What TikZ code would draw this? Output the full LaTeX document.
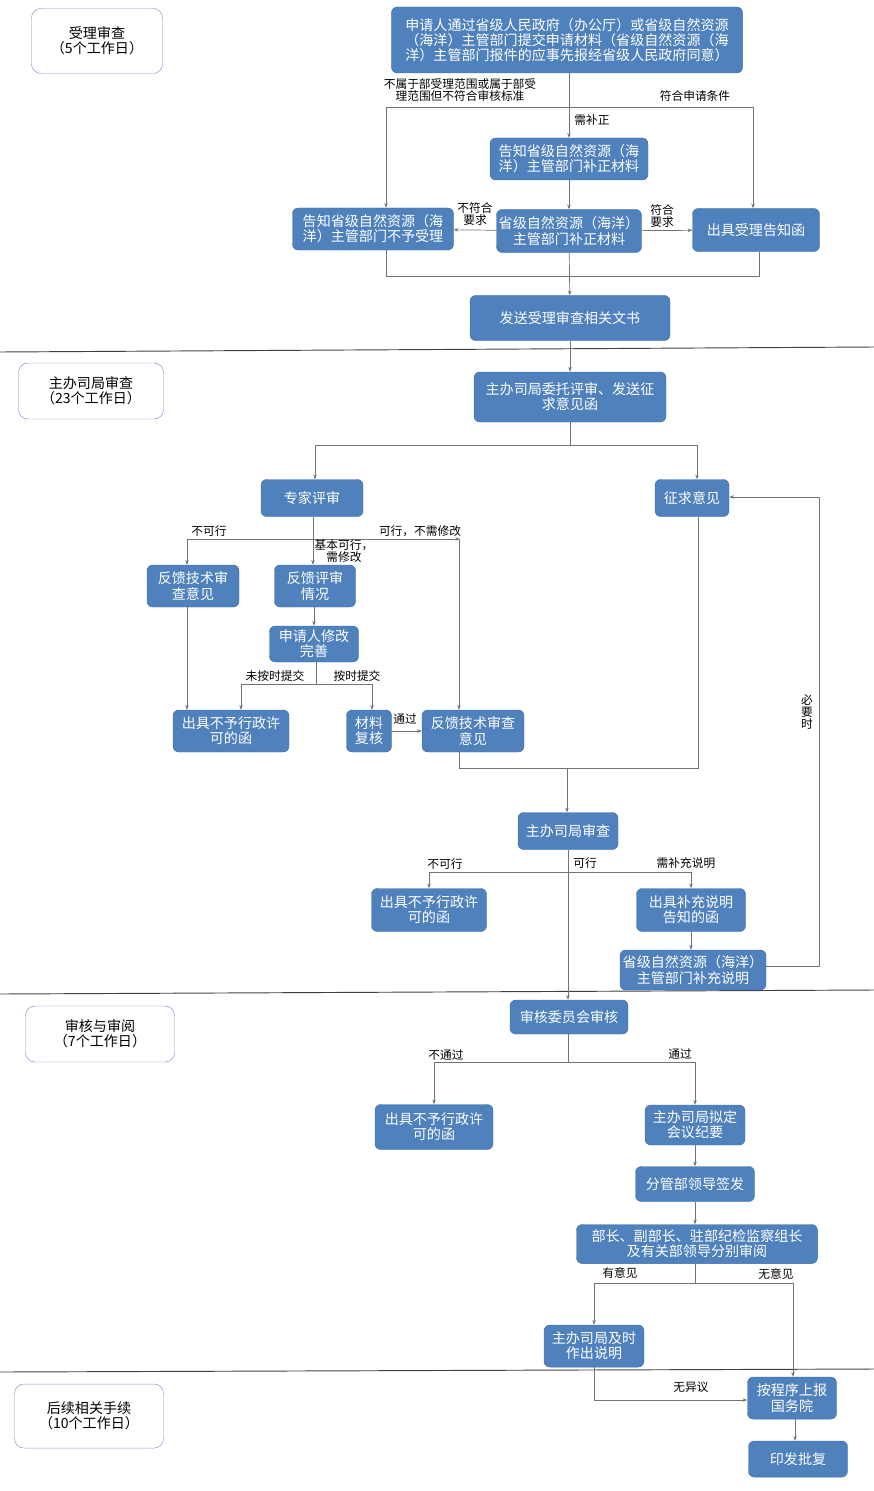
\documentclass[tikz,border=0pt]{standalone}
\usepackage{fontspec}
\newfontfamily\cjk{Noto Sans CJK SC}
\usetikzlibrary{arrows.meta}
\definecolor{boxblue}{RGB}{79,129,189}
\definecolor{boxedge}{RGB}{65,110,165}
\definecolor{stageedge}{RGB}{160,130,200}
\begin{document}
\begin{tikzpicture}[x=0.03cm, y=-0.03cm, cjk font/.style={font=\cjk\fontsize{12}{13}\selectfont},
    box/.style={cjk font, draw=boxedge, fill=boxblue, text=white, rounded corners=5pt, align=center, inner sep=1pt},
    stage/.style={cjk font, draw=stageedge, fill=white, rounded corners=8pt, align=center, inner sep=1pt},
    lab/.style={font=\cjk\fontsize{10}{10.5}\selectfont, align=center, inner sep=1pt},
    link/.style={draw=gray!90!black, line width=0.6pt},
    >={Stealth[length=4pt,width=3pt]}]
    \useasboundingbox (0,0) rectangle (874,1491);
    % Draw stage boxes
    \node[stage, minimum width=3.93cm, minimum height=1.95cm] (stageA) at (97,41) {受理审查\\（5个工作日）};
    \node[stage, minimum width=4.35cm, minimum height=1.68cm] (stageB) at (91,391) {主办司局审查\\（23个工作日）};
    \node[stage, minimum width=4.47cm, minimum height=1.68cm] (stageC) at (100,1034) {审核与审阅\\（7个工作日）};
    \node[stage, minimum width=4.47cm, minimum height=1.92cm] (stageD) at (89,1416) {后续相关手续\\（10个工作日）};
    % Draw dividers
    \draw[line width=0.8pt, black!75] (0,352) -- (874,347);
    \draw[line width=0.8pt, black!75] (0,994) -- (874,990);
    \draw[line width=0.8pt, black!75] (0,1372) -- (874,1369);

    % Draw acceptance boxes
    \node[box, minimum width=10.53cm, minimum height=1.98cm] (apply) at (567,40) {申请人通过省级人民政府（办公厅）或省级自然资源\\（海洋）主管部门提交申请材料（省级自然资源（海\\洋）主管部门报件的应事先报经省级人民政府同意）};
    \node[box, minimum width=4.74cm, minimum height=1.26cm] (notify) at (569,159) {告知省级自然资源（海\\洋）主管部门补正材料};
    \node[box, minimum width=4.83cm, minimum height=1.26cm] (reject) at (373,229) {告知省级自然资源（海\\洋）主管部门不予受理};
    \node[box, minimum width=4.35cm, minimum height=1.29cm] (supply) at (569,231) {省级自然资源（海洋）\\主管部门补正材料};
    \node[box, minimum width=3.81cm, minimum height=1.29cm] (accept) at (756,230) {出具受理告知函};
    \node[box, minimum width=6cm, minimum height=1.35cm] (send) at (570,318) {发送受理审查相关文书};

    % Draw review boxes
    \node[box, minimum width=5.76cm, minimum height=1.5cm] (entrust) at (570,397) {主办司局委托评审、发送征\\求意见函};
    \node[box, minimum width=3.06cm, minimum height=1.11cm] (expert) at (312,498) {专家评审};
    \node[box, minimum width=2.22cm, minimum height=1.11cm] (solicit) at (692,498) {征求意见};
    \node[box, minimum width=2.76cm, minimum height=1.26cm] (techA) at (193,586) {反馈技术审\\查意见};
    \node[box, minimum width=2.43cm, minimum height=1.26cm] (feedback) at (315,586) {反馈评审\\情况};
    \node[box, minimum width=2.67cm, minimum height=1.08cm] (revise) at (314,644) {申请人修改\\完善};
    \node[box, minimum width=3.48cm, minimum height=1.26cm] (denyA) at (231,731) {出具不予行政许\\可的函};
    \node[box, minimum width=1.35cm, minimum height=1.26cm] (recheck) at (369,731) {材料\\复核};
    \node[box, minimum width=3.06cm, minimum height=1.26cm] (techB) at (473,731) {反馈技术审查\\意见};
    \node[box, minimum width=3cm, minimum height=1.11cm] (hostrev) at (568,831) {主办司局审查};
    \node[box, minimum width=3.45cm, minimum height=1.29cm] (denyB) at (429,910) {出具不予行政许\\可的函};
    \node[box, minimum width=3.27cm, minimum height=1.29cm] (letter) at (691,910) {出具补充说明\\告知的函};
    \node[box, minimum width=4.38cm, minimum height=1.2cm] (explainP) at (693,970) {省级自然资源（海洋）\\主管部门补充说明};

    % Draw approval boxes
    \node[box, minimum width=3.54cm, minimum height=1.02cm] (committee) at (569,1017) {审核委员会审核};
    \node[box, minimum width=3.54cm, minimum height=1.35cm] (denyC) at (434,1127) {出具不予行政许\\可的函};
    \node[box, minimum width=3cm, minimum height=1.2cm] (minutes) at (695,1125) {主办司局拟定\\会议纪要};
    \node[box, minimum width=3.57cm, minimum height=1.05cm] (sign) at (695,1184) {分管部领导签发};
    \node[box, minimum width=7.23cm, minimum height=1.17cm] (leaders) at (697,1244) {部长、副部长、驻部纪检监察组长\\及有关部领导分别审阅};
    \node[box, minimum width=3cm, minimum height=1.26cm] (explain) at (594,1346) {主办司局及时\\作出说明};
    \node[box, minimum width=2.67cm, minimum height=1.26cm] (report) at (792,1398) {按程序上报\\国务院};
    \node[box, minimum width=2.97cm, minimum height=1.08cm] (issue) at (798,1459) {印发批复};

    % Draw acceptance connectors
    \draw[link, ->] (apply.south -| notify) -- (notify.north);
    \draw[link, ->] (386,107) -- (reject.north -| 386,0);
    \draw[link, ->] (386,107) -- (753,107) -- (accept.north -| 753,0);
    \draw[link, ->] (notify) -- (supply);
    \draw[link, ->] (supply) -- (reject);
    \draw[link, ->] (supply) -- (accept);
    \draw[link] (reject.south -| 386,0) -- (386,276) -- (759,276) -- (accept.south -| 759,0);
    \draw[link, ->] (supply) -- (send);
    \node[lab] (noscope) at (460,90) {不属于部受理范围或属于部受\\理范围但不符合审核标准};
    \node[lab] (meet) at (695,96) {符合申请条件};
    \node[lab] (needfix) at (592,120) {需补正};
    \node[lab] (failreq) at (475,214) {不符合\\要求};
    \node[lab] (passreq) at (662,216) {符合\\要求};

    % Draw review connectors
    \draw[link, ->] (send) -- (entrust);
    \draw[link, ->] (entrust.south) -- (570,445) -- (315,445) -- (expert.north -| 315,0);
    \draw[link, ->] (570,445) -- (697,445) -- (solicit.north -| 697,0);
    \draw[link, ->] (expert.south -| 313,0) -- (feedback.north -| 313,0);
    \draw[link, ->] (187,539) -- (460,539);
    \draw[link, ->] (187,539) -- (techA.north -| 187,0);
    \draw[link, ->] (459,539) -- (techB.north -| 459,0);
    \draw[link, ->] (techA.south -| 187,0) -- (denyA.north -| 187,0);
    \draw[link, ->] (feedback.south -| 314,0) -- (revise.north -| 314,0);
    \draw[link] (revise.south -| 316,0) -- (316,684);
    \draw[link, ->] (316,684) -- (241,684) -- (denyA.north -| 241,0);
    \draw[link, ->] (316,684) -- (372,684) -- (recheck.north -| 372,0);
    \draw[link, ->] (recheck) -- (techB);
    \draw[link] (techB.south -| 459,0) -- (459,768) -- (698,768) -- (solicit.south -| 698,0);
    \draw[link, ->] (567,768) -- (hostrev.north -| 567,0);
    \draw[link] (hostrev.south) -- (568,872);
    \draw[link, ->] (568,872) -- (429,872) -- (denyB.north);
    \draw[link, ->] (568,872) -- (691,872) -- (letter.north);
    \draw[link, ->] (568,872) -- (committee.north -| 568,0);
    \draw[link, ->] (letter) -- (explainP.north -| letter);
    \draw[link, ->] (explainP.east |- 0,966) -- (819,966) -- (819,497) -- (solicit.east |- 0,497);
    \node[lab] (infeasA) at (209,531) {不可行};
    \node[lab] (feasA) at (420,531) {可行，不需修改};
    \node[lab] (basic) at (344,551) {基本可行，\\需修改};
    \node[lab] (late) at (275,676) {未按时提交};
    \node[lab] (ontime) at (357,676) {按时提交};
    \node[lab] (passA) at (405,719) {通过};
    \node[lab] (infeasB) at (445,864) {不可行};
    \node[lab] (feasB) at (585,863) {可行};
    \node[lab] (needmore) at (686,863) {需补充说明};
    \node[lab] (whenneed) at (807,712) {必\\要\\时};

    % Draw approval connectors
    \draw[link] (committee.south -| 568,0) -- (568,1062);
    \draw[link, ->] (568,1062) -- (434,1062) -- (denyC.north);
    \draw[link, ->] (568,1062) -- (695,1062) -- (minutes.north);
    \draw[link, ->] (minutes) -- (sign);
    \draw[link, ->] (sign.south) -- (leaders.north -| sign);
    \draw[link] (leaders.south -| 695,0) -- (695,1283);
    \draw[link, ->] (695,1283) -- (594,1283) -- (explain.north);
    \draw[link, ->] (695,1283) -- (793,1283) -- (report.north -| 793,0);
    \draw[link, ->] (explain.south) -- (594,1400) -- (report.west |- 0,1400);
    \draw[link, ->] (report.south -| 795,0) -- (issue.north -| 795,0);
    \node[lab] (notpass) at (446,1055) {不通过};
    \node[lab] (pass) at (680,1054) {通过};
    \node[lab] (opinion) at (620,1273) {有意见};
    \node[lab] (noopinion) at (776,1274) {无意见};
    \node[lab] (noobj) at (691,1387) {无异议};
\end{tikzpicture}
\end{document}
